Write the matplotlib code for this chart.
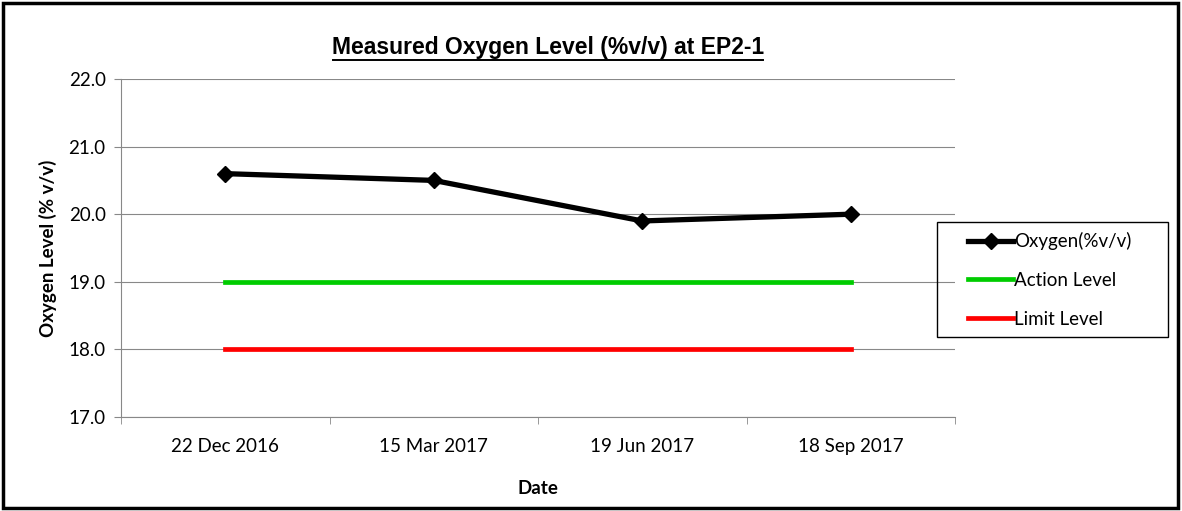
import matplotlib.pyplot as plt
from matplotlib.lines import Line2D
from matplotlib.patches import Rectangle

dates = ['22 Dec 2016', '15 Mar 2017', '19 Jun 2017', '18 Sep 2017']
oxygen = [20.6, 20.5, 19.9, 20.0]
action_level = [19.0, 19.0, 19.0, 19.0]
limit_level = [18.0, 18.0, 18.0, 18.0]

plt.rcParams['font.family'] = ['Lato', 'DejaVu Sans']

fig = plt.figure(figsize=(11.82, 5.11), dpi=100)
ax = fig.add_axes([121 / 1182, 1 - 417 / 511, 834 / 1182, 338 / 511])

x = list(range(len(dates)))
ax.plot(x, oxygen, color='black', lw=3.8, marker='D', ms=8.5, label='Oxygen(%v/v)')
ax.plot(x, action_level, color='#00cc00', lw=3.4, label='Action Level')
ax.plot(x, limit_level, color='#ff0000', lw=3.4, label='Limit Level')

ax.set_xlim(-0.5, 3.5)
ax.set_ylim(17, 22)
ax.set_yticks([17, 18, 19, 20, 21, 22])
ax.set_yticklabels(['%.1f' % v for v in [17, 18, 19, 20, 21, 22]], fontsize=13.5)
ax.set_xticks(x)
ax.set_xticklabels(dates, fontsize=13.5)
ax.set_xticks([-0.5, 0.5, 1.5, 2.5, 3.5], minor=True)
ax.tick_params(axis='x', which='major', length=0, pad=15)
ax.tick_params(axis='x', which='minor', length=5, color='#888888')
ax.tick_params(axis='y', length=5, color='#888888', pad=6)
ax.grid(axis='y', color='#888888', lw=0.8)
ax.set_axisbelow(True)
for s in ['top', 'right']:
    ax.spines[s].set_visible(False)
for s in ['left', 'bottom']:
    ax.spines[s].set_color('#888888')
    ax.spines[s].set_linewidth(0.8)

ax.set_ylabel('Oxygen Level (% v/v)', fontsize=13.5, fontweight='bold', labelpad=8)
ax.set_xlabel('Date', fontsize=13.5, fontweight='bold', labelpad=18)

fig.text(548 / 1182, 1 - 47 / 511, 'Measured Oxygen Level (%v/v) at EP2-1',
         ha='center', va='center', fontsize=16.5, fontweight='bold',
         family='Liberation Sans')
fig.add_artist(Line2D([333 / 1182, 763 / 1182], [1 - 60 / 511, 1 - 60 / 511],
                      color='black', lw=1.4, transform=fig.transFigure))

leg = fig.legend(loc='center left', bbox_to_anchor=(968 / 1182, 1 - 280 / 511),
                 fontsize=13.5, frameon=False,
                 handlelength=2.4, handletextpad=0.05, labelspacing=1.15,
                 borderpad=0, borderaxespad=0)
fig.add_artist(Rectangle((937 / 1182, 1 - 337 / 511), 231 / 1182, 115 / 511,
                         fill=False, edgecolor='black', lw=1.0,
                         transform=fig.transFigure))

fig.add_artist(Rectangle((3 / 1182, 3 / 511), 1175 / 1182, 505 / 511, fill=False,
                         edgecolor='black', lw=2.5, transform=fig.transFigure))

fig.savefig('out.png', dpi=100)
